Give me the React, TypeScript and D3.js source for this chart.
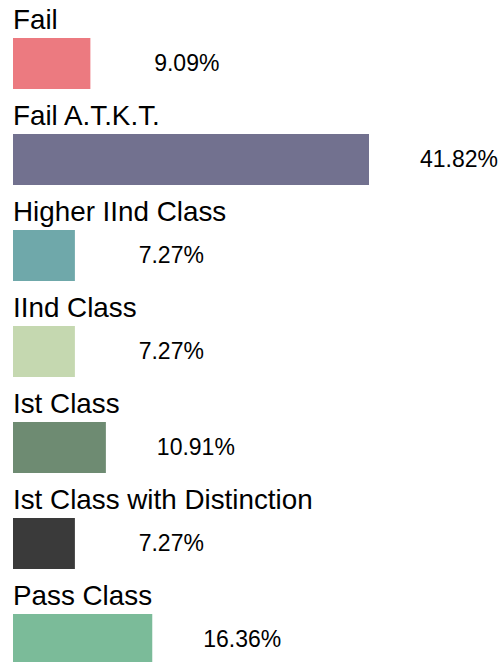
import React from "react";
import * as d3 from "d3";

const categories = [
  "Fail",
  "Fail A.T.K.T.",
  "Higher IInd Class",
  "IInd Class",
  "Ist Class",
  "Ist Class with Distinction",
  "Pass Class",
];
const values = [9.09, 41.82, 7.27, 7.27, 10.91, 7.27, 16.36];
const labels = ["9.09%", "41.82%", "7.27%", "7.27%", "10.91%", "7.27%", "16.36%"];
const colors = ["#EC7A80", "#72718F", "#6FA8AA", "#C5D8B0", "#6E8B72", "#3A3A3A", "#7BBB99"];

export default function App() {
  const W = 500;
  const H = 662;
  const left = 13;
  const x = d3.scaleLinear().domain([0, d3.max(values) as number]).range([0, 356]);
  const y = d3.scaleBand().domain(categories).range([0, 96 * categories.length]).paddingInner(0).paddingOuter(0);
  const font = "'Liberation Sans', Arial, sans-serif";
  return (
    <svg
      width={W}
      height={H}
      style={{ position: "absolute", left: 0, top: 0, background: "#fff" }}
    >
      {categories.map((c, i) => {
        const y0 = y(c) as number;
        const w = x(values[i]);
        return (
          <g key={c}>
            <text x={left} y={y0 + 29} fontFamily={font} fontSize={27.8} fill="#000">
              {c}
            </text>
            <rect x={left} y={y0 + 38} width={w} height={51} fill={colors[i]} />
            <text
              x={left + w + 129}
              y={y0 + 71}
              fontFamily={font}
              fontSize={23}
              textAnchor="end"
              fill="#000"
            >
              {labels[i]}
            </text>
          </g>
        );
      })}
    </svg>
  );
}
